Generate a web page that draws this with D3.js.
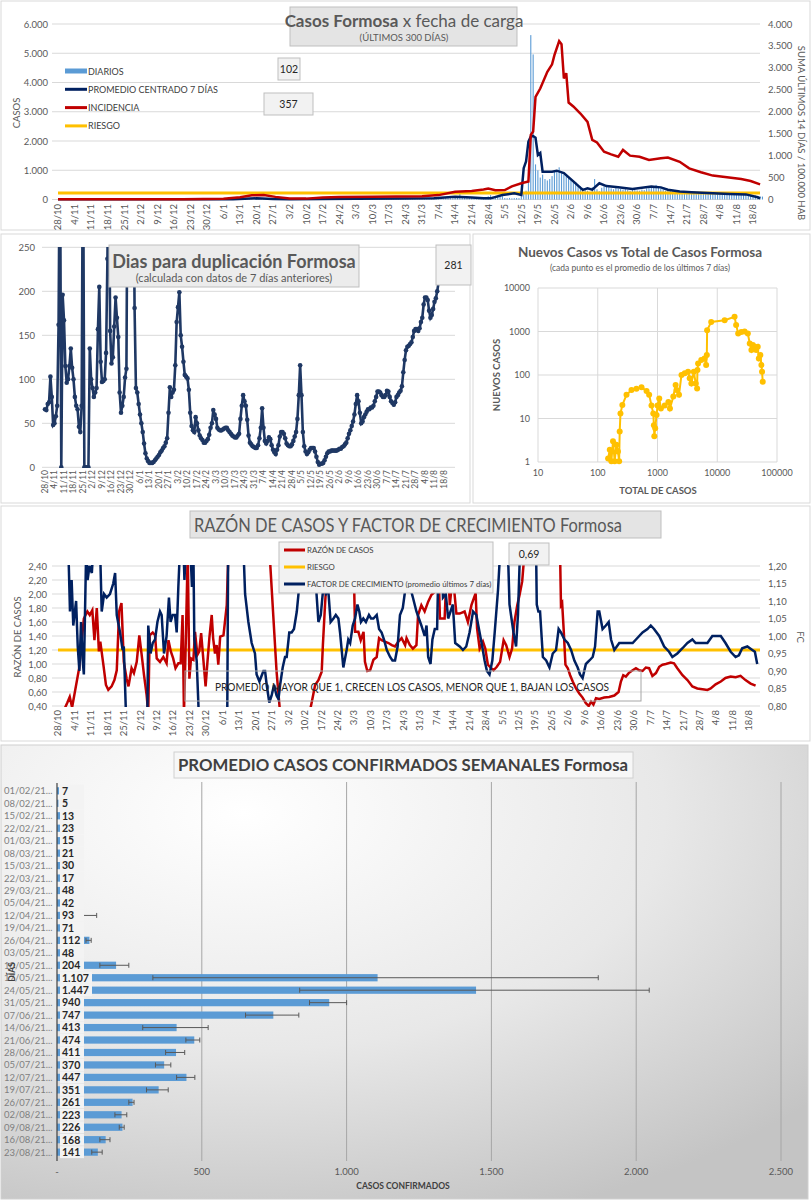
<!DOCTYPE html>
<html>
<head>
<meta charset="utf-8">
<script src="https://cdn.jsdelivr.net/npm/d3@7"></script>
<style>
  body { margin: 0; background: #fff; }
  svg { display: block; font-family: Lato, "Open Sans", sans-serif; }
</style>
</head>
<body>
<div id="chart"></div>
<script>
/* Tablero COVID Formosa: 5 graficos en una sola imagen */

// etiquetas del eje de fechas (una cada 7 dias desde 28/10/2020)
const etiquetasFecha = ["28/10","4/11","11/11","18/11","25/11","2/12","9/12","16/12","23/12","30/12",
  "6/1","13/1","20/1","27/1","3/2","10/2","17/2","24/2","3/3","10/3","17/3","24/3","31/3",
  "7/4","14/4","21/4","28/4","5/5","12/5","19/5","26/5","2/6","9/6","16/6","23/6","30/6",
  "7/7","14/7","21/7","28/7","4/8","11/8","18/8"];

// ---- grafico 1: casos diarios (uno por dia desde 28/10) ----
const diarios = [
  2,0,1,3,0,1,2, 1,0,2,1,0,0,1, 0,1,0,2,1,0,0, 1,0,0,1,2,0,1, 0,1,0,0,1,0,0,
  1,0,2,1,0,1,0, 0,1,1,0,2,0,1, 1,0,0,2,1,0,1, 2,1,0,1,3,2,1, 2,3,1,4,5,3,6,
  8,12,15,20,18,25,30, 35,40,38,52,45,48,60, 55,42,38,30,35,22,25, 18,15,12,10,8,9,6,
  5,7,4,6,5,3,8, 6,4,5,7,9,8,6, 12,15,10,14,18,13,11, 20,25,22,18,28,24,21,
  15,14,18,12,16,17,13, 20,22,19,25,18,24,21, 30,28,32,26,35,29,31, 18,15,20,16,19,14,17,
  45,50,42,55,48,52,44, 40,45,38,48,42,44,39, 95,110,250,85,90,100,80, 70,75,68,80,65,72,70,
  110,150,100,95,120,105,115, 50,45,55,40,48,52,46, 200,250,300,650,5620,4960,1200,
  1000,750,850,700,650,700,800, 950,1000,1100,900,850,800,750, 700,650,600,500,450,400,380,
  300,250,420,700,350,280,400, 450,500,420,380,350,400,370, 360,340,380,330,300,350,320,
  310,300,340,320,380,400,420, 450,500,420,380,350,300,320, 300,280,260,250,240,270,230,
  220,240,210,230,250,200,220, 210,230,190,200,220,180,210, 200,190,210,180,170,190,160,
  170,180,160,150,175,140,150, 130,140,120,110,100];

// promedio centrado 7 dias (dia desde 28/10, valor)
const promedioDias = [0,74,79,84,91,98,112,126,147,159,168,175,180,183,188,193,196,197,198,199,200,201,202,203,
  204,205,209,211,214,218,222,224,226,229,232,237,243,251,255,258,263,268,277,284,291,296,297];
const promedioValores = [5,5,25,40,20,10,15,25,30,45,95,70,40,40,155,210,155,1070,1300,1980,2150,2170,2110,1520,
  1590,950,950,985,900,620,330,380,335,555,460,415,360,440,415,335,270,245,210,190,175,75,40];

// incidencia: suma ultimos 14 dias / 100.000 hab (eje derecho)
const incidenciaDias = [0,53,70,77,82,87,92,98,105,112,119,133,143,154,161,168,175,180,182,185,189,192,196,199,
  200,201,202,204,207,209,210,212,213,214,215,216,218,221,224,226,228,231,234,237,239,242,246,250,255,258,
  263,267,272,277,283,289,293,297];
const incidenciaValores = [5,8,15,50,95,105,60,25,20,45,55,60,70,75,100,175,195,230,250,210,215,300,370,410,
  1470,1550,2340,2530,2910,3080,3290,3610,3540,2760,2880,2210,2120,1960,1770,1360,1300,1090,1030,975,1130,1000,
  975,900,940,955,860,710,620,545,505,465,420,345];
const riesgoIncidencia = 150;

const ticksCasos = [0,1000,2000,3000,4000,5000,6000];
const etiquetasCasos = ["0","1.000","2.000","3.000","4.000","5.000","6.000"];
const ticksIncidencia = [0,500,1000,1500,2000,2500,3000,3500,4000];
const etiquetasIncidencia = ["0","500","1.000","1.500","2.000","2.500","3.000","3.500","4.000"];

// ---- grafico 2: dias para duplicacion (uno por dia desde 28/10, >250 queda fuera) ----
const duplicacion = [
  66,65,72,74,103,80,48, 50,58,70,162,400,0,196, 167,115,96,100,115,135,113, 100,80,70,66,46,40,70,
  400,0,0,0,0,135,100, 90,80,85,90,157,205,120, 97,98,100,130,237,400,155, 118,125,160,193,170,148,85,
  62,70,80,102,112,400,400, 400,400,400,181,90,85,72, 60,50,40,27,16,10,7, 5,5,5,6,8,10,12,
  14,17,19,22,24,28,33, 62,91,80,85,88,116,165, 182,199,150,137,120,105,103, 101,88,62,47,42,40,57,
  50,42,36,33,31,28,28, 30,32,37,45,50,65,60, 55,45,43,42,42,43,44, 45,45,42,40,38,36,35,
  34,34,36,38,55,70,82, 75,70,54,36,28,26,24, 23,22,22,25,33,45,67, 45,30,27,30,34,32,25,
  20,17,15,20,25,35,40, 40,38,33,27,25,24,24, 26,30,35,40,55,82,116, 82,40,24,18,15,17,20,
  22,22,22,18,12,6,3, 4,4,5,8,12,16,18, 18,19,19,19,19,19,20, 21,21,23,24,26,28,33,
  38,42,47,52,60,72,82, 75,62,50,52,57,60,63, 66,66,68,68,70,75,80, 86,86,85,82,80,80,82,
  87,86,80,75,73,71,74, 80,82,85,87,92,108,122, 133,137,138,140,142,148,155, 157,157,155,158,165,170,185,
  193,193,190,178,170,173,180, 188,192,200,210,220,281];
const ticksDuplicacion = [0,50,100,150,200,250];

// ---- grafico 3: nuevos casos vs total (promedio 7 dias) ----
const totalCasos = [149,159,169,180,192,205,218,228,233,240,258,303,367,444,540,656,725,793,850,870,885,915,965,
  1000,1070,1140,1320,1520,1615,1840,2010,2090,2290,2520,2860,3250,3460,3690,4050,4370,4600,4660,4780,5400,
  6120,6520,6690,6770,7920,13300,19500,20700,22400,25300,28700,32500,35000,37300,39500,42000,44800,47600,
  49600,52700,54800,56200,57700];
const nuevosCasos = [1.2,1.9,1.04,3,1.04,2.5,1.75,1.04,5,13,20.5,35,45,48,52,43,35,20,13,7,3.9,6,12,
  20,29,17,20,24,17,32,59,45,35,100,109,119,84,64,119,64,49,130,184,220,
  240,170,287,1070,1660,1820,2170,1420,900,980,1000,900,530,375,490,445,375,445,
  241,287,170,119,70];
const ticksLog = [10,100,1000,10000,100000];
const ticksLogY = [1,10,100,1000,10000];

// ---- grafico 4: razon de casos y factor de crecimiento (dia desde 28/10) ----
const razonDias = [2,4,5,6,9,11,12.5,13.5,14.6,15.5,16.5,17.4,18,19.3,20.4,21.4,22.8,24,25,26,27,28,29.2,30,31.3,
  32.3,33.5,34.6,35.6,36.6,37.7,38.4,39,40.3,41.3,42,43.4,44.8,46.2,47,48,49,50,51.2,52.2,53,53.6,54.3,55.2,55.9,
  56.6,57.6,58.3,59.3,60.1,60.9,61.8,62.8,63.5,64.4,65.4,66,66.8,67.5,68.2,69,70.4,71.8,72.5,90,93,94.5,107,108,
  109.4,110.8,112.2,112.7,113.6,115,125.7,126.4,127.8,128.8,130,130.6,131.6,132.8,134.2,135.6,136.6,137.7,139.1,
  140.6,142,143.4,144.8,146.2,147.7,148.3,149.7,151,152.5,153.2,154.6,156,157.5,158.9,160.3,161.7,162.5,164.5,
  165.7,166.7,167.4,168.5,169.5,170.9,173,174.4,175.9,176.6,177.7,178.3,179.4,180.8,181.8,182.9,184.3,185.3,
  186.7,188.1,189.6,190.7,192.1,193.2,194.2,195.4,196.4,197.5,198.5,213.6,214,214.5,215.2,215.9,216.9,217.9,
  219,220.4,221.8,223.2,224.6,225.8,226.8,227.8,228.9,230.3,232.4,234.5,236.7,238.5,239.5,240.5,241.6,242.8,
  244.5,245.9,247.3,248.7,250.1,251.5,252.9,254.4,255.8,257.2,258.6,260.7,262.1,263.5,265.7,267.8,269.9,272,
  274.2,276.3,277.7,279.8,282,284,286.2,288.3,290.4,292.5,294.7,296.8];
const razonValores = [0.3,0.45,0.53,0.38,0.94,1.65,1.75,1.7,1.77,1.34,1.8,1.18,1.32,0.99,0.7,0.63,0.68,0.77,0.91,
  1.75,1.87,1.03,0.79,0.68,0.94,0.87,1.03,1.41,1.13,0.84,0.56,0.3,1.41,1.45,1.41,1.08,1.03,1.1,1.01,1.34,1.18,
  1.08,0.94,1.01,1.01,1.7,0.3,1.22,2.6,0.79,1.08,1.06,1.46,1.13,1.18,1.44,1.08,0.68,0.99,1.37,1.7,1.37,1.15,
  1.27,0.99,1.39,1.41,1.84,2.6,2.6,0.89,0.3,0.3,0.46,0.7,0.77,0.89,1.27,1.84,2.6,2.6,1.46,1.46,1.34,1.46,1.03,
  0.9,0.91,1.06,1.1,1.37,1.34,1.32,1.3,1.27,1.25,1.32,1.37,1.27,1.37,1.27,1.22,1.27,1.7,1.84,1.75,1.89,1.99,
  2.03,2.6,1.65,1.65,2.6,1.84,2.08,2.08,1.72,1.72,1.75,1.6,1.84,1.91,2.01,1.51,1.22,1.32,1.22,0.99,0.94,0.91,
  0.96,1.03,1.34,1.27,1.1,1.22,1.6,1.84,1.99,2.18,2.6,2.6,1.84,1.87,1.46,0.99,0.94,0.84,0.75,0.65,0.58,0.52,
  0.44,0.4,0.46,0.42,0.51,0.5,0.52,0.53,0.55,0.6,0.75,0.84,0.82,0.87,0.91,0.94,0.91,0.9,0.95,0.94,0.83,0.87,
  0.96,0.99,1,1.02,1.01,0.94,0.84,0.77,0.68,0.65,0.64,0.63,0.65,0.71,0.75,0.8,0.82,0.81,0.83,0.77,0.72,0.69];
const fcDias = [4.4,5.1,5.8,6.5,7.7,8.4,9.1,9.8,10.5,11,12,12.6,13.4,14.4,15,17.9,18.6,19.6,20.7,22.1,23.5,24.3,
  25,26.4,27.5,28,29,38,38.4,39.4,40.3,41.3,42.3,43.4,44.1,45.1,46.2,47.2,47.9,48.8,49.8,50.5,51.2,51.9,53.4,
  53.8,54.4,56.3,57,57.6,58,59,60,72,72.4,78.9,79.6,81,82.4,83.8,84.5,85.7,87.4,88.1,88.8,89.9,90.9,91.9,93,
  93.8,94.5,95.6,96.6,97.3,98.4,99.4,100.4,101.6,102.6,103.4,109.4,110,110.8,111.8,112.9,114,115,116,117.2,
  118.2,119.3,120,120.7,121.4,122.8,123.5,124.3,125.4,126.4,127.4,128.2,128.9,129.9,131,132.3,133.2,134.2,
  135.6,136.6,137.7,138.7,139.9,141.3,142.3,143.4,144.5,145.5,146.7,147.7,149,151,152.5,154.6,156,156.8,
  157.5,158.5,159.3,160.3,161.3,162,163.2,163.8,165,166,168,169,170.9,172.3,173.7,175.1,176.6,178,179.1,
  180.5,181.5,182.5,183.6,184.8,185.8,187.2,188.2,191.4,192.1,193.8,194.9,195.7,196.6,203.4,203.7,204.4,
  205.1,206.3,207.7,209.1,210.5,211.9,213,214,215.5,216.9,218.3,219.7,221.1,222.1,223.2,224.6,226.1,227.5,
  228.5,229.6,230.3,231.7,233.1,234.3,235.3,236.7,238.8,240.2,241.6,244.5,246.6,248.7,250.8,252.2,253.6,
  255.8,257.9,260,261.4,263.5,265.7,267.8,269.9,271.3,274.2,276.3,278.4,280.5,282,284,286.2,288.3,289.7,
  291.1,293.3,295.4,296.5,297.5];
const fcValores = [1.25,1.07,1.16,1.03,1.1,0.97,0.9,1.04,0.93,0.89,1.25,1.16,1.2,1.18,1.25,1.25,1.07,1.12,1.11,
  1.12,1.15,1.18,1.06,1.01,0.96,0.97,0.76,0.76,1.03,0.95,0.98,0.99,1.04,1.07,1.06,0.95,1,1.11,1.04,1.06,1.06,
  1.01,1.14,1.25,1.25,1.16,1.25,1.25,1.14,1.25,0.99,0.93,0.76,0.76,1.25,1.25,1.12,1.04,0.98,0.95,0.89,0.87,
  0.9,0.9,0.86,0.81,0.83,0.86,0.83,0.82,0.86,0.91,0.94,0.94,1.01,1.01,1.02,1.07,1.14,1.25,1.25,1.12,1.04,
  1.06,1.14,1.12,1.13,1.04,1.05,1.06,1.05,1.01,0.96,0.91,0.96,0.99,0.98,1.03,1.05,1.09,1.07,1.04,1.05,1.04,
  1.06,1.05,1.05,1.06,1.02,1.01,0.99,0.96,0.94,0.93,0.93,0.97,1.06,1.08,1.13,1.16,1.11,1.07,1.03,1,1.03,
  0.94,0.92,0.99,1.02,1.02,1.25,1.25,1.11,1.12,1.05,1.09,0.98,0.97,0.96,0.97,1.01,1.07,1.06,1.02,0.97,0.93,
  0.9,0.89,0.93,1.01,1.13,1.25,1.25,1.09,1.01,0.97,1.06,1.25,1.25,1.09,1.07,1.07,0.94,0.93,0.91,0.95,0.96,
  1.02,1.01,0.99,0.98,0.96,0.93,0.91,0.89,0.88,0.92,0.93,0.94,0.97,1.07,1.07,1.02,1.03,1.04,0.99,0.96,0.98,
  0.98,0.98,0.98,0.995,1.01,1.02,1.03,1.02,1,0.97,0.955,0.94,0.95,0.965,0.98,0.99,0.98,0.98,0.98,1,1,1,
  0.98,0.955,0.94,0.945,0.965,0.97,0.96,0.955,0.92];
const riesgoRazon = 1.2;
const ticksRazon = [0.4,0.6,0.8,1.0,1.2,1.4,1.6,1.8,2.0,2.2,2.4];
const etiquetasRazon = ["0,40","0,60","0,80","1,00","1,20","1,40","1,60","1,80","2,00","2,20","2,40"];
const ticksFC = [0.80,0.85,0.90,0.95,1.00,1.05,1.10,1.15,1.20];
const etiquetasFC = ["0,80","0,85","0,90","0,95","1,00","1,05","1,10","1,15","1,20"];

// ---- grafico 5: promedio semanal de casos confirmados ----
const semanas = ["01/02/21...","08/02/21...","15/02/21...","22/02/21...","01/03/21...","08/03/21...",
  "15/03/21...","22/03/21...","29/03/21...","05/04/21...","12/04/21...","19/04/21...","26/04/21...",
  "03/05/21...","10/05/21...","17/05/21...","24/05/21...","31/05/21...","07/06/21...","14/06/21...",
  "21/06/21...","28/06/21...","05/07/21...","12/07/21...","19/07/21...","26/07/21...","02/08/21...",
  "09/08/21...","16/08/21...","23/08/21..."];
const promedioSemanal = [7,5,13,23,15,21,30,17,48,42,93,71,112,48,204,1107,1447,940,747,413,474,411,370,447,351,261,223,226,168,141];
const errorBajo = [7,5,13,23,15,21,30,17,48,42,80,70,100,48,148,331,838,872,651,296,445,375,340,413,309,248,200,215,148,120];
const errorAlto = [7,5,13,23,15,21,30,17,48,42,137,75,118,48,248,1869,2045,1000,835,522,493,441,393,476,384,266,241,232,183,156];
const ticksSemanal = [0,500,1000,1500,2000,2500];
const etiquetasSemanal = ["-","500","1.000","1.500","2.000","2.500"];

const azulClaro = "#5b9bd5", azulOscuro = "#1f3864", navy = "#002060",
      rojo = "#c00000", naranja = "#ffc000", gris = "#595959", grilla = "#d9d9d9";
const miles = d3.formatLocale({decimal: ",", thousands: ".", grouping: [3], currency: ["$", ""]}).format(",");

let svg = d3.select("#chart")
    .append("svg")
    .attr("width", 812)
    .attr("height", 1200);

let defs = svg.append("defs");

// marco de cada panel
function panel(x, y, w, h) {
    svg.append("rect").attr("x", x).attr("y", y).attr("width", w).attr("height", h)
        .attr("fill", "#fff").attr("stroke", grilla);
}

// etiquetas de fecha giradas, una cada 7 dias
function ejeFechas(g, x, top, size) {
    g.selectAll(null).data(etiquetasFecha).join("text")
        .attr("transform", (d, i) => `translate(${x(i * 7) + size * 0.35},${top}) rotate(-90)`)
        .attr("text-anchor", "end")
        .style("font-size", size + "px")
        .attr("fill", gris)
        .text(d => d);
}

// recuadro gris (titulos y etiquetas); siempre arriba de las series
function caja(x, y, w, h, fill) {
    svg.append("rect").attr("x", x).attr("y", y).attr("width", w).attr("height", h)
        .attr("fill", fill).attr("stroke", "#bfbfbf");
}

function texto(x, y, size, txt) {
    return svg.append("text").attr("x", x).attr("y", y)
        .style("font-size", size + "px").attr("fill", gris).text(txt);
}

function recorte(id, x, y, w, h) {
    defs.append("clipPath").attr("id", id).append("rect")
        .attr("x", x).attr("y", y).attr("width", w).attr("height", h);
}

/* ================= Panel 1: Casos Formosa ================= */
panel(1, 1, 809, 229);
{
    let x = d3.scaleLinear().domain([0, 294]).range([58, 753]);
    let y = d3.scaleLinear().domain([0, 6000]).range([199.5, 24]);
    let yR = d3.scaleLinear().domain([0, 4000]).range([199.5, 24]);
    let g = svg.append("g");

    g.selectAll(null).data(ticksCasos).join("line") // grilla horizontal
        .attr("x1", 52).attr("x2", 760)
        .attr("y1", d => y(d)).attr("y2", d => y(d))
        .attr("stroke", grilla);

    g.selectAll(null).data(diarios).join("rect") // barras diarias
        .attr("x", (d, i) => x(i) - 0.55)
        .attr("width", 1.1)
        .attr("y", d => y(d))
        .attr("height", d => y(0) - y(d))
        .attr("fill", azulClaro);

    g.append("line") // riesgo
        .attr("x1", 58).attr("x2", 760)
        .attr("y1", yR(riesgoIncidencia)).attr("y2", yR(riesgoIncidencia))
        .attr("stroke", naranja).attr("stroke-width", 3);

    g.append("path")
        .datum(promedioDias.map((d, i) => [d, promedioValores[i]]))
        .attr("d", d3.line().x(d => x(d[0])).y(d => y(d[1])))
        .attr("fill", "none").attr("stroke", navy).attr("stroke-width", 2.5);

    g.append("path")
        .datum(incidenciaDias.map((d, i) => [d, incidenciaValores[i]]))
        .attr("d", d3.line().x(d => x(d[0])).y(d => yR(d[1])))
        .attr("fill", "none").attr("stroke", rojo).attr("stroke-width", 2.5);

    g.selectAll(null).data(ticksCasos).join("text")
        .attr("x", 48).attr("y", d => y(d) + 3.5)
        .attr("text-anchor", "end").style("font-size", "9.5px").attr("fill", gris)
        .text((d, i) => etiquetasCasos[i]);

    g.selectAll(null).data(ticksIncidencia).join("text")
        .attr("x", 768).attr("y", d => yR(d) + 3.5)
        .style("font-size", "9.5px").attr("fill", gris)
        .text((d, i) => etiquetasIncidencia[i]);

    ejeFechas(g, x, 204, 9.5);

    g.append("text")
        .attr("transform", "translate(20,113) rotate(-90)")
        .attr("text-anchor", "middle").style("font-size", "9.5px").attr("fill", gris)
        .text("CASOS");
    g.append("text")
        .attr("transform", "translate(798,133) rotate(90)")
        .attr("text-anchor", "middle").style("font-size", "9.5px").attr("fill", gris)
        .text("SUMA  ÚLTIMOS 14 DÍAS / 100.000 HAB");

    // leyenda
    let ley = [["DIARIOS", azulClaro, 5], ["PROMEDIO CENTRADO 7 DÍAS", navy, 3],
               ["INCIDENCIA", rojo, 3], ["RIESGO", naranja, 3]];
    ley.forEach((d, i) => {
        g.append("line").attr("x1", 65).attr("x2", 87)
            .attr("y1", 71 + i * 18.3).attr("y2", 71 + i * 18.3)
            .attr("stroke", d[1]).attr("stroke-width", d[2]);
        g.append("text").attr("x", 88).attr("y", 74.5 + i * 18.3)
            .style("font-size", "9px").attr("fill", "#404040").text(d[0]);
    });

    caja(290, 7, 227, 39, "#e4e4e4");
    let t = texto(404, 27, 17, null).attr("text-anchor", "middle");
    t.append("tspan").style("font-weight", "bold").text("Casos  Formosa");
    t.append("tspan").text("  x fecha  de carga");
    texto(404, 41, 9.5, "(ÚLTIMOS 300 DÍAS)").attr("text-anchor", "middle");

    caja(278, 58, 22, 22, "#f2f2f2");
    texto(289, 73, 10.5, "102").attr("text-anchor", "middle").attr("fill", "#262626");
    caja(264, 93, 49, 22, "#f2f2f2");
    texto(288.5, 108, 10.5, "357").attr("text-anchor", "middle").attr("fill", "#262626");
}

/* ================= Panel 2: Dias para duplicacion ================= */
panel(1, 234, 469, 269);
{
    let x = d3.scaleLinear().domain([0, 294]).range([45, 444]);
    let y = d3.scaleLinear().domain([0, 250]).range([467.3, 247.3]);
    let g = svg.append("g");
    recorte("clipDup", 38, 247, 430, 221);

    g.selectAll(null).data(ticksDuplicacion).join("line")
        .attr("x1", 42).attr("x2", 455)
        .attr("y1", d => y(d)).attr("y2", d => y(d))
        .attr("stroke", grilla);
    g.selectAll(null).data(ticksDuplicacion).join("text")
        .attr("x", 35).attr("y", d => y(d) + 3.5)
        .attr("text-anchor", "end").style("font-size", "9.5px").attr("fill", gris)
        .text(d => d);

    let cg = g.append("g").attr("clip-path", "url(#clipDup)");
    cg.append("path")
        .datum(duplicacion)
        .attr("d", d3.line().x((d, i) => x(i)).y(d => y(d)))
        .attr("fill", "none").attr("stroke", azulOscuro).attr("stroke-width", 2.6);
    cg.selectAll(null).data(duplicacion).join("circle")
        .attr("cx", (d, i) => x(i)).attr("cy", d => y(d)).attr("r", 2.3)
        .attr("fill", azulOscuro);

    ejeFechas(g, x, 470, 8.5);

    caja(109, 245, 250, 42, "#ececec");
    texto(234, 268, 18, "Dias para duplicación Formosa")
        .attr("text-anchor", "middle").style("font-weight", "bold");
    texto(234, 282, 11, "(calculada con datos de 7 días anteriores)").attr("text-anchor", "middle");

    caja(436, 245, 35, 40, "#f2f2f2");
    texto(453.5, 269, 10.5, "281").attr("text-anchor", "middle").attr("fill", "#262626");
}

/* ================= Panel 3: Nuevos vs total ================= */
panel(473, 234, 337, 269);
{
    let x = d3.scaleLog().domain([10, 100000]).range([538, 777]);
    let y = d3.scaleLog().domain([1, 10000]).range([462, 288]);
    let g = svg.append("g");

    g.selectAll(null).data(ticksLog).join("line")
        .attr("x1", d => x(d)).attr("x2", d => x(d))
        .attr("y1", 288).attr("y2", 462).attr("stroke", grilla);
    g.selectAll(null).data(ticksLogY).join("line")
        .attr("x1", 538).attr("x2", 777)
        .attr("y1", d => y(d)).attr("y2", d => y(d)).attr("stroke", grilla);

    g.selectAll(null).data(ticksLog).join("text")
        .attr("x", d => x(d)).attr("y", 476).attr("text-anchor", "middle")
        .style("font-size", "9px").attr("fill", gris).text(d => d);
    g.selectAll(null).data(ticksLogY).join("text")
        .attr("x", 530).attr("y", d => y(d) + 3).attr("text-anchor", "end")
        .style("font-size", "9px").attr("fill", gris).text(d => d);

    let pts = totalCasos.map((d, i) => [d, nuevosCasos[i]]);
    g.append("path").datum(pts)
        .attr("d", d3.line().x(d => x(d[0])).y(d => y(d[1])))
        .attr("fill", "none").attr("stroke", naranja).attr("stroke-width", 2);
    g.selectAll(null).data(pts).join("circle")
        .attr("cx", d => x(d[0])).attr("cy", d => y(d[1])).attr("r", 3)
        .attr("fill", naranja);

    texto(640, 257, 13.5, "Nuevos Casos vs Total de Casos Formosa")
        .attr("text-anchor", "middle").style("font-weight", "bold");
    texto(640, 271, 8.5, "(cada punto es el promedio de los últimos 7 días)").attr("text-anchor", "middle");
    g.append("text").attr("transform", "translate(500,375) rotate(-90)")
        .attr("text-anchor", "middle").style("font-size", "9.5px").style("font-weight", "bold")
        .attr("fill", gris).text("NUEVOS  CASOS");
    texto(658, 494, 9.5, "TOTAL DE CASOS").attr("text-anchor", "middle").style("font-weight", "bold");
}

/* ================= Panel 4: Razon de casos y FC ================= */
panel(1, 506, 809, 235);
{
    let x = d3.scaleLinear().domain([0, 294]).range([58, 749]);
    let y = d3.scaleLinear().domain([0.4, 2.4]).range([706, 566]);
    let yR = d3.scaleLinear().domain([0.8, 1.2]).range([706, 566]);
    let g = svg.append("g");
    recorte("clipRazon", 55, 565, 710, 142);

    g.selectAll(null).data(ticksRazon).join("line")
        .attr("x1", 52).attr("x2", 760)
        .attr("y1", d => y(d)).attr("y2", d => y(d)).attr("stroke", grilla);
    g.selectAll(null).data(ticksRazon).join("text")
        .attr("x", 47).attr("y", d => y(d) + 3.5).attr("text-anchor", "end")
        .style("font-size", "9.5px").attr("fill", gris).text((d, i) => etiquetasRazon[i]);
    g.selectAll(null).data(ticksFC).join("text")
        .attr("x", 768).attr("y", d => yR(d) + 3.5)
        .style("font-size", "9.5px").attr("fill", gris).text((d, i) => etiquetasFC[i]);

    let cg = g.append("g").attr("clip-path", "url(#clipRazon)");
    cg.append("line")
        .attr("x1", 58).attr("x2", 760)
        .attr("y1", y(riesgoRazon)).attr("y2", y(riesgoRazon))
        .attr("stroke", naranja).attr("stroke-width", 3);
    cg.append("path").datum(razonDias.map((d, i) => [d, razonValores[i]]))
        .attr("d", d3.line().x(d => x(d[0])).y(d => y(d[1])))
        .attr("fill", "none").attr("stroke", rojo).attr("stroke-width", 2.5);
    cg.append("path").datum(fcDias.map((d, i) => [d, fcValores[i]]))
        .attr("d", d3.line().x(d => x(d[0])).y(d => yR(d[1])))
        .attr("fill", "none").attr("stroke", navy).attr("stroke-width", 2.5);

    ejeFechas(g, x, 710, 9.5);

    g.append("text").attr("transform", "translate(21,637) rotate(-90)")
        .attr("text-anchor", "middle").style("font-size", "9.5px").attr("fill", gris)
        .text("RAZÓN  DE CASOS");
    g.append("text").attr("transform", "translate(797,637) rotate(90)")
        .attr("text-anchor", "middle").style("font-size", "9.5px").attr("fill", gris)
        .text("FC");

    caja(190, 511, 471, 27, "#e4e4e4");
    texto(194, 532, 19, "RAZÓN DE CASOS Y FACTOR DE CRECIMIENTO Formosa")
        .attr("textLength", 428).attr("lengthAdjust", "spacingAndGlyphs");

    // leyenda
    caja(279, 542, 214, 51, "#f2f2f2");
    let ley = [["RAZÓN DE CASOS", rojo], ["RIESGO", naranja],
               ["FACTOR DE CRECIMIENTO (promedio últimos 7 días)", navy]];
    ley.forEach((d, i) => {
        svg.append("line").attr("x1", 284).attr("x2", 305)
            .attr("y1", 550 + i * 17).attr("y2", 550 + i * 17)
            .attr("stroke", d[1]).attr("stroke-width", 3);
        texto(307, 553 + i * 17, 7.8, d[0]).attr("fill", "#404040");
    });

    caja(509, 543, 40, 22, "#f2f2f2");
    texto(529, 558, 10.5, "0,69").attr("text-anchor", "middle").attr("fill", "#262626");

    svg.append("rect").attr("x", 185).attr("y", 671).attr("width", 456).attr("height", 30)
        .attr("fill", "none").attr("stroke", "#a6a6a6");
    texto(412, 691, 12, "PROMEDIO MAYOR QUE 1, CRECEN LOS CASOS, MENOR QUE 1, BAJAN LOS CASOS")
        .attr("text-anchor", "middle").attr("fill", "#262626")
        .attr("textLength", 394).attr("lengthAdjust", "spacingAndGlyphs");
}

/* ================= Panel 5: promedio semanal ================= */
{
    let grad = defs.append("radialGradient").attr("id", "fondo")
        .attr("cx", "30%").attr("cy", "15%").attr("r", "95%");
    grad.append("stop").attr("offset", "0%").attr("stop-color", "#ffffff");
    grad.append("stop").attr("offset", "55%").attr("stop-color", "#e8e8e8");
    grad.append("stop").attr("offset", "100%").attr("stop-color", "#c4c4c4");
    svg.append("rect").attr("x", 1).attr("y", 745).attr("width", 807).attr("height", 454)
        .attr("fill", "url(#fondo)").attr("stroke", "#d0d0d0");

    let x = d3.scaleLinear().domain([0, 2500]).range([57, 781]);
    let y = d3.scaleBand().domain(semanas).range([782, 1161]).padding(0.42);
    let g = svg.append("g");

    g.selectAll(null).data(ticksSemanal.slice(1)).join("line")
        .attr("x1", d => x(d)).attr("x2", d => x(d))
        .attr("y1", 782).attr("y2", 1161).attr("stroke", "#a6a6a6");
    g.selectAll(null).data(ticksSemanal).join("text")
        .attr("x", d => x(d)).attr("y", 1175).attr("text-anchor", "middle")
        .style("font-size", "9.5px").attr("fill", gris).text((d, i) => etiquetasSemanal[i]);

    g.selectAll(null).data(promedioSemanal).join("rect")
        .attr("x", x(0))
        .attr("y", (d, i) => y(semanas[i]))
        .attr("width", d => x(d) - x(0))
        .attr("height", y.bandwidth())
        .attr("fill", azulClaro);

    // barras de error
    let err = g.selectAll(null).data(promedioSemanal).join("g")
        .attr("transform", (d, i) => `translate(0,${y(semanas[i]) + y.bandwidth() / 2})`);
    err.append("line")
        .attr("x1", (d, i) => x(errorBajo[i])).attr("x2", (d, i) => x(errorAlto[i]))
        .attr("stroke", "#595959");
    err.append("line")
        .attr("x1", (d, i) => x(errorBajo[i])).attr("x2", (d, i) => x(errorBajo[i]))
        .attr("y1", -2.5).attr("y2", 2.5).attr("stroke", "#595959")
        .attr("opacity", (d, i) => errorAlto[i] > errorBajo[i] ? 1 : 0);
    err.append("line")
        .attr("x1", (d, i) => x(errorAlto[i])).attr("x2", (d, i) => x(errorAlto[i]))
        .attr("y1", -2.5).attr("y2", 2.5).attr("stroke", "#595959")
        .attr("opacity", (d, i) => errorAlto[i] > errorBajo[i] ? 1 : 0);

    // etiquetas de valor con fondo claro
    let lab = g.selectAll(null).data(promedioSemanal).join("g")
        .attr("transform", (d, i) => `translate(60,${y(semanas[i]) + y.bandwidth() / 2})`);
    lab.append("rect")
        .attr("x", 0).attr("y", -6)
        .attr("width", d => d >= 1000 ? 32 : 24).attr("height", 12)
        .attr("fill", "#f3f3f3");
    lab.append("text").attr("x", 2).attr("y", 3.8)
        .style("font-size", "10.5px").style("font-weight", "bold").attr("fill", "#262626")
        .text(d => miles(d));

    g.append("line").attr("x1", 57).attr("x2", 57).attr("y1", 783).attr("y2", 1161)
        .attr("stroke", "#404040").attr("stroke-width", 1.2);

    g.selectAll(null).data(semanas).join("text")
        .attr("x", 4).attr("y", d => y(d) + y.bandwidth() / 2 + 3.5)
        .style("font-size", "9.5px").attr("fill", "#7f7f7f").text(d => d);

    g.append("text").attr("transform", "translate(15,972) rotate(-90)")
        .attr("text-anchor", "middle").style("font-size", "8.5px").style("font-weight", "bold")
        .attr("fill", "#404040").text("DÍAS");
    g.append("text").attr("x", 403).attr("y", 1189).attr("text-anchor", "middle")
        .style("font-size", "8.5px").style("font-weight", "bold").attr("fill", "#404040")
        .text("CASOS CONFIRMADOS");

    svg.append("rect").attr("x", 174).attr("y", 752).attr("width", 459).attr("height", 26)
        .attr("fill", "#f7f7f7").attr("stroke", "#d0d0d0");
    svg.append("text").attr("x", 403).attr("y", 771).attr("text-anchor", "middle")
        .attr("textLength", 450).attr("lengthAdjust", "spacingAndGlyphs")
        .style("font-size", "17px").style("font-weight", "bold").attr("fill", "#404040")
        .text("PROMEDIO CASOS CONFIRMADOS SEMANALES Formosa");
}
</script>
</body>
</html>
